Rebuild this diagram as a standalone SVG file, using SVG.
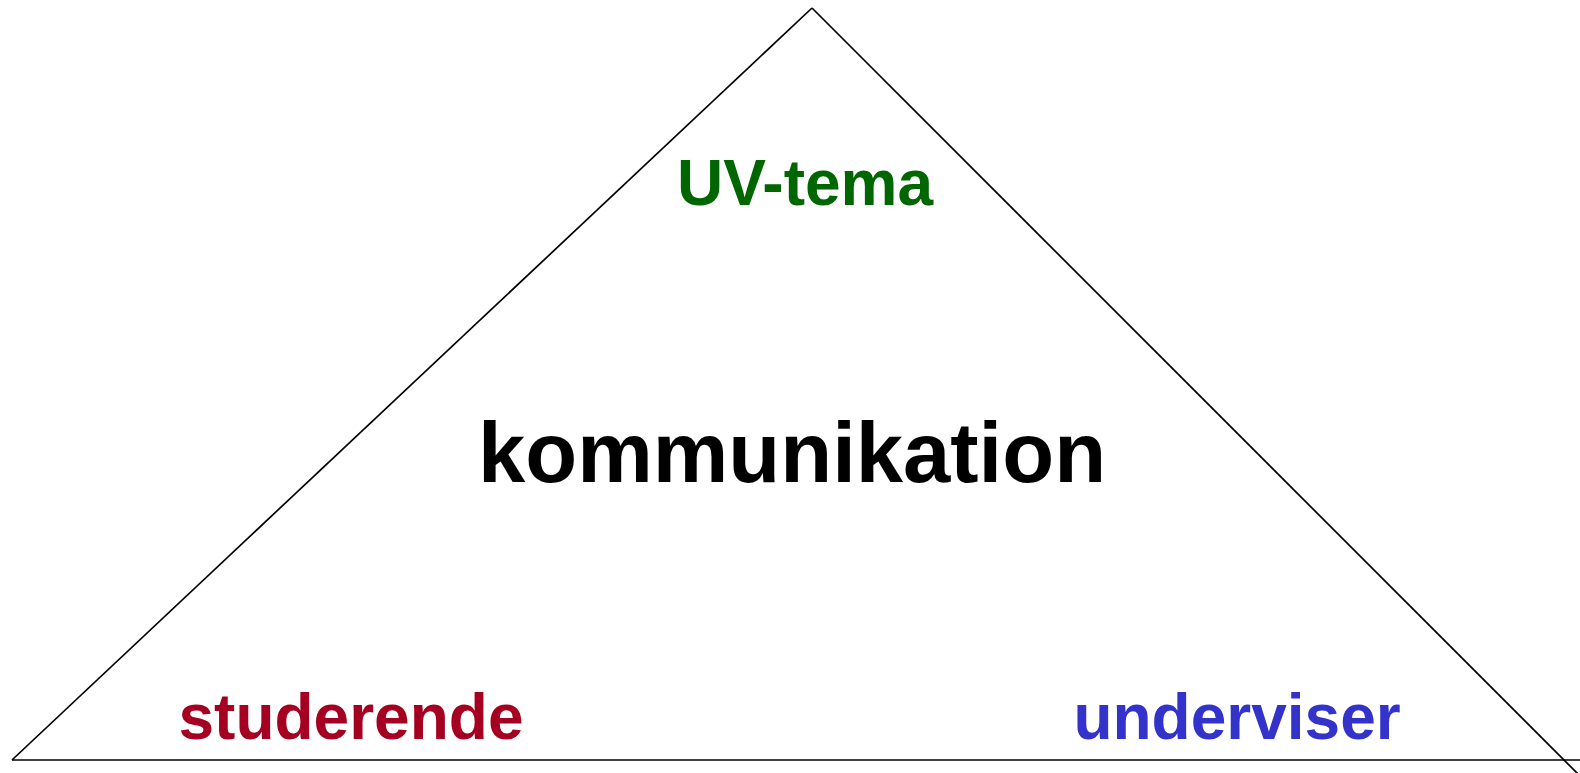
<svg xmlns="http://www.w3.org/2000/svg" width="1580" height="773" viewBox="0 0 1580 773">
<style>
.ln{stroke:#000;fill:none;stroke-width:1.7}
.t{font-family:"Liberation Sans",Arial,sans-serif;font-weight:bold;text-anchor:middle}
</style>
<rect width="1580" height="773" fill="#fff"/>
<g id="connectors">
<line class="ln" x1="12" y1="760" x2="812" y2="8"/>
<line class="ln" x1="812" y1="8" x2="1578" y2="774"/>
<line class="ln" x1="12" y1="760" x2="1580" y2="760" stroke-width="2"/>
</g>
<g id="uvtema"><text class="t" x="805" y="205" font-size="64" fill="#006600">UV-tema</text></g>
<g id="kommunikation"><text class="t" x="792" y="482" font-size="85" fill="#000">kommunikation</text></g>
<g id="studerende"><text class="t" x="351" y="739" font-size="64" fill="#A50021">studerende</text></g>
<g id="underviser"><text class="t" x="1237" y="739" font-size="64" fill="#3333CC">underviser</text></g>
</svg>
